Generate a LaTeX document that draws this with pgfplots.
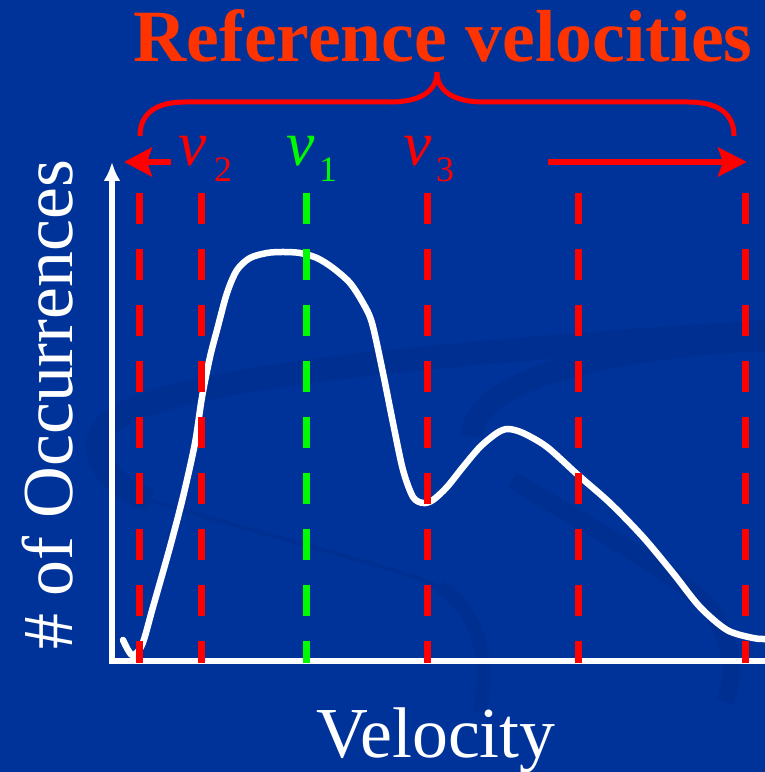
\documentclass[border=0pt]{standalone}
\usepackage{pgfplots}
\pgfplotsset{compat=1.18}
\usetikzlibrary{arrows.meta}
\usepackage{fontspec}
\setmainfont{Liberation Serif}
\definecolor{bgblue}{RGB}{0,51,153}
\definecolor{swoosh}{RGB}{0,47,146}
\definecolor{titlered}{RGB}{255,51,0}
\definecolor{vred}{RGB}{255,0,0}
\definecolor{vgreen}{RGB}{0,250,0}

\begin{document}
\begin{tikzpicture}
\useasboundingbox (0,0) rectangle (765bp,772bp);
\begin{axis}[at={(0,0)}, anchor=south west, scale only axis,
  width=765bp, height=772bp, xmin=0, xmax=765, ymin=0, ymax=772,
  hide axis, clip=false]
% background
\fill[bgblue] (axis cs:0,0) rectangle (axis cs:765,772);
% faint swooshes
\draw[swoosh, line width=24bp] (axis cs:765,440) .. controls (axis cs:450,420) and (axis cs:150,395) .. (axis cs:105,345)
  .. controls (axis cs:85,320) and (axis cs:110,285) .. (axis cs:150,272);
\draw[swoosh, line width=4bp] (axis cs:150,272) .. controls (axis cs:250,240) and (axis cs:380,210) .. (axis cs:440,185);
\draw[swoosh, line width=14bp] (axis cs:440,185) .. controls (axis cs:480,160) and (axis cs:490,110) .. (axis cs:480,60);
\draw[swoosh, line width=22bp] (axis cs:472,335) .. controls (axis cs:472,395) and (axis cs:620,425) .. (axis cs:765,432);
\draw[swoosh, line width=18bp] (axis cs:512,292) .. controls (axis cs:600,240) and (axis cs:690,190) .. (axis cs:712,160)
  .. controls (axis cs:735,125) and (axis cs:735,95) .. (axis cs:725,70);

% axes
\draw[white, line width=5.5bp] (axis cs:109,111) -- (axis cs:765,111);
\draw[white, line width=5.5bp, -{Latex[length=19bp,width=17bp]}] (axis cs:112,108) -- (axis cs:112,610);

% distribution curve
\addplot[white, line width=6.5bp, smooth, tension=0.5, line cap=round] coordinates {
(123,132) (132,117) (142,127) (153,165) (170,225) (183,275) (195,329) (202,375)
(210,415) (217,442) (227,479) (237,502) (250,514) (267,519) (283,520) (300,519)
(317,514) (333,504) (350,489) (363,469) (372,449)
(383,399) (393,349) (403,302) (413,275) (423,269) (433,272) (447,285)
(463,305) (480,325) (497,339) (508,343) (523,339) (547,325) (578,297) (610,269)
(643,235) (673,199) (700,165) (727,142) (753,134) (765,133)
};

% reference velocity lines
\addplot[vred, line width=7bp, dash pattern=on 31bp off 25bp] coordinates {(139,579) (139,109)};
\addplot[vred, line width=7bp, dash pattern=on 31bp off 25bp] coordinates {(201,579) (201,109)};
\addplot[vgreen, line width=7bp, dash pattern=on 31bp off 25bp] coordinates {(306,579) (306,109)};
\addplot[vred, line width=7bp, dash pattern=on 31bp off 25bp] coordinates {(427,579) (427,109)};
\addplot[vred, line width=7bp, dash pattern=on 31bp off 25bp] coordinates {(578,579) (578,109)};
\addplot[vred, line width=7bp, dash pattern=on 31bp off 25bp] coordinates {(745,579) (745,109)};

% arrows
\draw[vred, line width=5.5bp, -{Stealth[length=28bp,width=29bp,inset=5bp]}] (axis cs:171,610) -- (axis cs:124,610);
\draw[vred, line width=5.5bp, -{Stealth[length=29bp,width=29bp,inset=5bp]}] (axis cs:548,610) -- (axis cs:747,610);

% brace
\draw[vred, line width=5bp] (axis cs:140,636) .. controls (axis cs:140,660) and (axis cs:158,670) .. (axis cs:185,670)
  -- (axis cs:390,670) .. controls (axis cs:422,670) and (axis cs:437,682) .. (axis cs:437,700)
  .. controls (axis cs:437,682) and (axis cs:452,670) .. (axis cs:484,670)
  -- (axis cs:688,670) .. controls (axis cs:716,670) and (axis cs:734,660) .. (axis cs:734,636);

% labels
\node[anchor=base, inner sep=0, text=titlered, font=\fontsize{74}{74}\selectfont\bfseries] at (axis cs:443,710) {Reference velocities};
\node[anchor=base west, inner sep=0, text=vred, font=\fontsize{64}{64}\selectfont\itshape] at (axis cs:178,606) {v};
\node[anchor=base west, inner sep=0, text=vred, font=\fontsize{36}{36}\selectfont] at (axis cs:214,590) {2};
\node[anchor=base west, inner sep=0, text=vgreen, font=\fontsize{64}{64}\selectfont\itshape] at (axis cs:286,606) {v};
\node[anchor=base west, inner sep=0, text=vgreen, font=\fontsize{36}{36}\selectfont] at (axis cs:319,590) {1};
\node[anchor=base west, inner sep=0, text=vred, font=\fontsize{64}{64}\selectfont\itshape] at (axis cs:403,606) {v};
\node[anchor=base west, inner sep=0, text=vred, font=\fontsize{36}{36}\selectfont] at (axis cs:436,590) {3};
\node[anchor=base, inner sep=0, text=white, rotate=90, font=\fontsize{72}{72}\selectfont] at (axis cs:72,367) {\# of Occurrences};
\node[anchor=base, inner sep=0, text=white, font=\fontsize{72}{72}\selectfont] at (axis cs:436,15) {Velocity};
\end{axis}
\end{tikzpicture}
\end{document}
